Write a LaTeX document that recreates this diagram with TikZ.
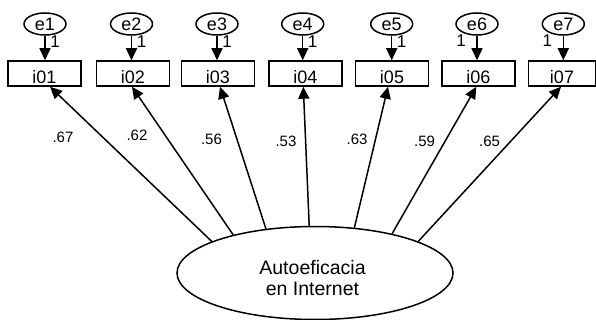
\documentclass[tikz,border=0pt]{standalone}
\usepackage{fontspec}
\setmainfont{Liberation Sans}
\usetikzlibrary{arrows.meta,shapes.geometric}
\begin{document}
\begin{tikzpicture}[x=1pt,y=-1pt,
  line width=1.5pt,
  obs/.style={draw, rectangle, minimum width=73pt, minimum height=25pt, inner sep=0pt,
    font=\fontsize{18}{18}\selectfont, text height=20pt, text depth=0.6pt},
  err/.style={draw, ellipse, minimum width=42pt, minimum height=22pt, inner sep=0pt,
    font=\fontsize{18}{18}\selectfont, text height=14pt, text depth=0pt},
  lat/.style={draw, ellipse, minimum width=276pt, minimum height=93pt, inner sep=0pt},
  lattext/.style={align=center, inner sep=0pt, font=\fontsize{19.5}{20.5}\selectfont},
  arr/.style={-{Triangle[width=11pt,length=12pt]}},
  one/.style={font=\fontsize{17}{17}\selectfont, inner sep=0pt},
  ld/.style={font=\fontsize{15}{15}\selectfont, inner sep=0pt}
]
\useasboundingbox (0,0) rectangle (596,320);

% observed variables
\node[obs] (i01) at (44.5,73.5) {i01};
\node[obs] (i02) at (133,73.5) {i02};
\node[obs] (i03) at (218,73.5) {i03};
\node[obs] (i04) at (305.3,73.5) {i04};
\node[obs] (i05) at (392,73.5) {i05};
\node[obs] (i06) at (478.3,73.5) {i06};
\node[obs, minimum width=67pt] (i07) at (562,73.5) {i07};

% error terms
\node[err] (e1) at (45,24) {e1};
\node[err] (e2) at (131.5,24) {e2};
\node[err] (e3) at (217,24) {e3};
\node[err] (e4) at (302.7,24) {e4};
\node[err] (e5) at (391.7,24) {e5};
\node[err] (e6) at (477,24) {e6};
\node[err] (e7) at (563.3,24) {e7};

\foreach \k in {1,...,7}{
  \draw[arr] (e\k) -- (e\k |- i0\k.north);
}
\node[one] (o1) at (55,42) {1};
\node[one] (o2) at (141.5,42) {1};
\node[one] (o3) at (227,42) {1};
\node[one] (o4) at (312.7,42) {1};
\node[one] (o5) at (401.7,42) {1};
\node[one] (o6) at (461,41) {1};
\node[one] (o7) at (547.3,41) {1};

% latent variable
\node[lat] (L) at (315,273) {};
\node[lattext] (Lt) at (312.5,278) {Autoeficacia\\en Internet};

\draw[arr] (L.163.4) -- ([xshift=5.5pt]i01.south);
\draw[arr] (L.155.5) -- ([xshift=-1pt]i02.south);
\draw[arr] (L.138.3) -- ([xshift=2pt]i03.south);
\draw[arr] (L.97.4) -- ([xshift=-2pt]i04.south);
\draw[arr] (L.49) -- ([xshift=-4pt]i05.south);
\draw[arr] (L.27.6) -- ([xshift=-2pt]i06.south);
\draw[arr] (L.17.7) -- ([xshift=-1pt]i07.south);

% loadings
\node[ld] (l1) at (63,137) {.67};
\node[ld] (l2) at (137,135) {.62};
\node[ld] (l3) at (211.5,139) {.56};
\node[ld] (l4) at (286,141) {.53};
\node[ld] (l5) at (357,139) {.63};
\node[ld] (l6) at (424.5,141) {.59};
\node[ld] (l7) at (489.5,141) {.65};
\end{tikzpicture}
\end{document}
